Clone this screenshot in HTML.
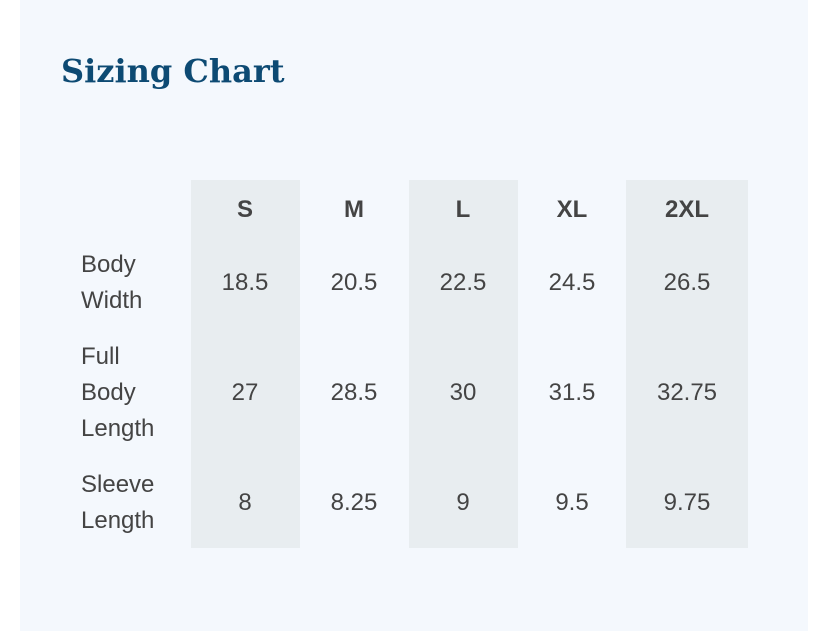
<!DOCTYPE html>
<html><head><style>
body{margin:0;width:828px;height:631px;background:#fff;position:relative;overflow:hidden;font-family:"Liberation Sans",sans-serif;}
.panel{position:absolute;left:20px;top:0;width:788px;height:631px;background:#f4f8fd;}
h1{position:absolute;left:61px;top:52px;margin:0;font-family:"DejaVu Serif","Liberation Serif",serif;font-weight:bold;font-size:32px;color:#0d4a73;letter-spacing:0px;}
.shade{position:absolute;top:180px;height:368px;background:#e8edf0;}
.t{position:absolute;color:#444;font-size:24px;text-align:center;transform:translate(-50%,-50%);white-space:nowrap;}
.h{font-weight:bold;}
.lab{position:absolute;left:81px;color:#444;font-size:24px;line-height:36px;}
</style></head><body>
<div class="panel"></div>
<h1>Sizing Chart</h1>
<div class="shade" style="left:191px;width:109px"></div>
<div class="shade" style="left:409px;width:109px"></div>
<div class="shade" style="left:626px;width:122px"></div>
<div class="t h" style="left:245px;top:210px">S</div>
<div class="t h" style="left:354px;top:210px">M</div>
<div class="t h" style="left:463px;top:210px">L</div>
<div class="t h" style="left:572px;top:210px">XL</div>
<div class="t h" style="left:687px;top:210px">2XL</div>
<div class="lab" style="top:247px">Body<br>Width</div>
<div class="lab" style="top:339px">Full<br>Body<br>Length</div>
<div class="lab" style="top:467px">Sleeve<br>Length</div>
<div class="t" style="left:245px;top:283px">18.5</div>
<div class="t" style="left:354px;top:283px">20.5</div>
<div class="t" style="left:463px;top:283px">22.5</div>
<div class="t" style="left:572px;top:283px">24.5</div>
<div class="t" style="left:687px;top:283px">26.5</div>
<div class="t" style="left:245px;top:393px">27</div>
<div class="t" style="left:354px;top:393px">28.5</div>
<div class="t" style="left:463px;top:393px">30</div>
<div class="t" style="left:572px;top:393px">31.5</div>
<div class="t" style="left:687px;top:393px">32.75</div>
<div class="t" style="left:245px;top:503px">8</div>
<div class="t" style="left:354px;top:503px">8.25</div>
<div class="t" style="left:463px;top:503px">9</div>
<div class="t" style="left:572px;top:503px">9.5</div>
<div class="t" style="left:687px;top:503px">9.75</div>
</body></html>
